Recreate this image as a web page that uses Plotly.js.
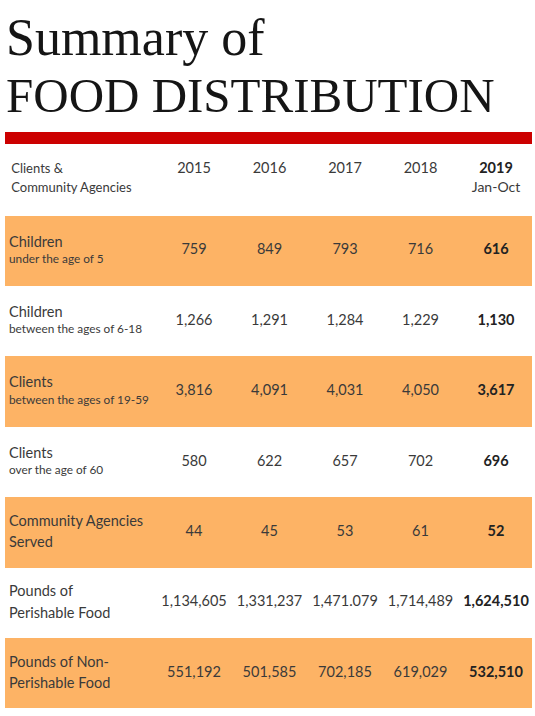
<!DOCTYPE html>
<html>
<head>
<meta charset="utf-8">
<script src="https://cdn.plot.ly/plotly-3.0.1.min.js"></script>
<style>html,body{margin:0;padding:0;background:#fff;}#chart{width:535px;height:716px;}</style>
</head>
<body>
<div id="chart"></div>
<script>
// ---------------- DATA ----------------
const titleLine1 = 'Summary of';
const titleLine2 = 'FOOD DISTRIBUTION';
const headerLabel = ['Clients &', 'Community Agencies'];
const years = ['2015', '2016', '2017', '2018', '2019'];
const lastYearNote = 'Jan-Oct';
const rowTitles = ['Children', 'Children', 'Clients', 'Clients', 'Community Agencies', 'Pounds of', 'Pounds of Non-'];
const rowSubtitles = ['under the age of 5', 'between the ages of 6-18', 'between the ages of 19-59', 'over the age of 60', 'Served', 'Perishable Food', 'Perishable Food'];
const subIsSmall = [true, true, true, true, false, false, false];
const v2015 = ['759', '1,266', '3,816', '580', '44', '1,134,605', '551,192'];
const v2016 = ['849', '1,291', '4,091', '622', '45', '1,331,237', '501,585'];
const v2017 = ['793', '1,284', '4,031', '657', '53', '1,471.079', '702,185'];
const v2018 = ['716', '1,229', '4,050', '702', '61', '1,714,489', '619,029'];
const v2019 = ['616', '1,130', '3,617', '696', '52', '1,624,510', '532,510'];
const valuesByYear = [v2015, v2016, v2017, v2018, v2019];

// ---------------- LAYOUT GEOMETRY (pixels -> axis units) ----------------
const W = 535, H = 716;
const colX0 = 194, colPitch = 75.5;     // centre of first year column, spacing
const rowY0 = 250.7, rowPitch = 70.4;   // centre of first data row, spacing
const px2x = p => (p - colX0) / colPitch + 1;
const px2y = p => (p - rowY0) / rowPitch + 1;
const labelX = px2x(9);
const stripeL = px2x(5), stripeR = px2x(532);

const ORANGE = '#FDB365';
const RED = '#CC0000';
const TXT = '#3a3a3a';
const BOLD = '#222222';
const FONT = 'Lato, "Open Sans", sans-serif';
const TITLE_FONT = '"Liberation Serif", serif';

const rowIdx = rowTitles.map((_, i) => i + 1);
const traces = [];

// stripes (orange on odd rows)
const stripeRows = rowIdx.filter(k => k % 2 === 1);
traces.push({
  type: 'bar', orientation: 'h',
  y: stripeRows, x: stripeRows.map(() => stripeR - stripeL), base: stripeL,
  width: 1, marker: {color: ORANGE, line: {width: 0}}, hoverinfo: 'skip'
});

// header: years
traces.push({
  type: 'scatter', mode: 'text',
  x: years.slice(0, 4).map((_, j) => j + 1), y: years.slice(0, 4).map(() => -0.16),
  text: years.slice(0, 4), textposition: 'middle center',
  textfont: {family: FONT, size: 14.5, color: TXT}, hoverinfo: 'skip', cliponaxis: false
});
traces.push({
  type: 'scatter', mode: 'text',
  x: [5], y: [-0.16], text: [years[4]], textposition: 'middle center',
  textfont: {family: FONT, size: 14.5, color: BOLD, weight: 'bold'}, hoverinfo: 'skip', cliponaxis: false
});
traces.push({
  type: 'scatter', mode: 'text',
  x: [5], y: [0.11], text: [lastYearNote], textposition: 'middle center',
  textfont: {family: FONT, size: 14, color: TXT}, hoverinfo: 'skip', cliponaxis: false
});
// header label
traces.push({
  type: 'scatter', mode: 'text',
  x: [labelX + 0.03, labelX + 0.03], y: [-0.15, 0.12], text: headerLabel, textposition: 'middle right',
  textfont: {family: FONT, size: 13, color: TXT}, hoverinfo: 'skip', cliponaxis: false
});

// row labels
traces.push({
  type: 'scatter', mode: 'text',
  x: rowIdx.map(() => labelX), y: rowIdx.map((k, i) => k + (subIsSmall[i] ? -0.11 : -0.14)),
  text: rowTitles, textposition: 'middle right',
  textfont: {family: FONT, size: 14.5, color: TXT}, hoverinfo: 'skip', cliponaxis: false
});
traces.push({
  type: 'scatter', mode: 'text',
  x: rowIdx.map(() => labelX), y: rowIdx.map((k, i) => k + (subIsSmall[i] ? 0.13 : 0.16)),
  text: rowSubtitles, textposition: 'middle right',
  textfont: {family: FONT, size: rowSubtitles.map((_, i) => subIsSmall[i] ? 11.8 : 14.5), color: TXT},
  hoverinfo: 'skip', cliponaxis: false
});

// values
valuesByYear.forEach((vals, j) => {
  const last = j === valuesByYear.length - 1;
  traces.push({
    type: 'scatter', mode: 'text',
    x: vals.map(() => j + 1), y: rowIdx, text: vals, textposition: 'middle center',
    textfont: {family: FONT, size: 14.5, color: last ? BOLD : TXT, weight: last ? 'bold' : 'normal'},
    hoverinfo: 'skip', cliponaxis: false
  });
});

const layout = {
  width: W, height: H,
  margin: {l: 0, r: 0, t: 0, b: 0, pad: 0},
  paper_bgcolor: '#ffffff', plot_bgcolor: '#ffffff',
  showlegend: false, hovermode: false, bargap: 0,
  xaxis: {range: [px2x(0), px2x(W)], visible: false, fixedrange: true},
  yaxis: {range: [px2y(H), px2y(0)], visible: false, fixedrange: true},
  title: {
    text: titleLine1, xref: 'container', yref: 'container',
    x: 6 / W, xanchor: 'left', y: 1 - 37 / H, yanchor: 'middle',
    font: {family: TITLE_FONT, size: 52, color: '#151515'}
  },
  annotations: [{
    text: titleLine2, xref: 'paper', yref: 'paper', x: 4 / W, xanchor: 'left',
    y: 1 - 95.5 / H, yanchor: 'middle', showarrow: false,
    font: {family: TITLE_FONT, size: 49, color: '#151515'}
  }],
  shapes: [{
    type: 'rect', xref: 'paper', yref: 'paper', x0: 5 / W, x1: 532 / W,
    y0: 1 - 144 / H, y1: 1 - 132 / H, fillcolor: RED, line: {width: 0}, layer: 'below'
  }]
};

Plotly.newPlot('chart', traces, layout, {displayModeBar: false, staticPlot: true});
</script>
</body>
</html>
